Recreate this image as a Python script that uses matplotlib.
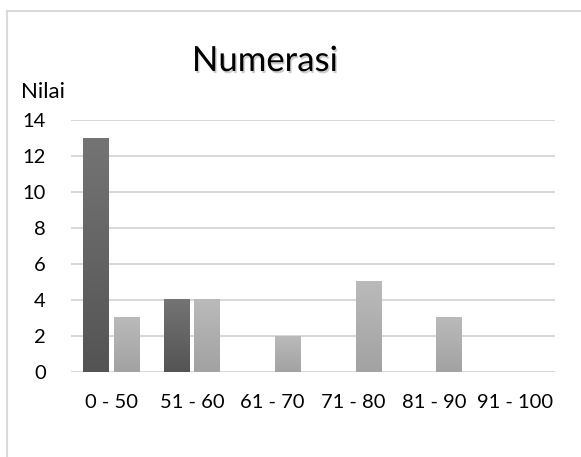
import matplotlib.pyplot as plt
import matplotlib.patheffects as pe
import numpy as np
from matplotlib.patches import Rectangle

plt.rcParams['font.family'] = ['Lato', 'DejaVu Sans']

categories = ['0 - 50', '51 - 60', '61 - 70', '71 - 80', '81 - 90', '91 - 100']
series_dark = [13, 4, 0, 0, 0, 0]
series_light = [3, 4, 2, 5, 3, 0]
y_ticks = [0, 2, 4, 6, 8, 10, 12, 14]

W, H = 581, 457
fig = plt.figure(figsize=(W / 100, H / 100), dpi=100)
fig.patch.set_facecolor('white')

# light grey frame around the chart area
fig.add_artist(Rectangle((6.5 / W, -0.01), 1.02, 1 - 10.5 / H + 0.01, transform=fig.transFigure,
                         fill=False, edgecolor='#d9d9d9', linewidth=1.5))

ax = fig.add_axes([71 / W, 1 - 372 / H, (555 - 71) / W, (372 - 120) / H])
x = np.arange(len(categories))
width = 0.32
offset = 0.19

def grad_bars(xs, vals, top, bottom):
    bars = ax.bar(xs, vals, width, color='none', zorder=3)
    cmap = np.linspace(0, 1, 64).reshape(-1, 1)
    c_top = np.array(plt.matplotlib.colors.to_rgb(top))
    c_bot = np.array(plt.matplotlib.colors.to_rgb(bottom))
    img = c_top[None, None, :] * (1 - cmap[..., None]) + c_bot[None, None, :] * cmap[..., None]
    for b in bars:
        h = b.get_height()
        if h <= 0:
            continue
        x0 = b.get_x()
        w = b.get_width()
        # soft shadow under each bar
        shadow = Rectangle((x0, 0), w, h, facecolor='#000000', alpha=0.0, zorder=2,
                           path_effects=[pe.SimplePatchShadow(offset=(0, -1), shadow_rgbFace='#808080', alpha=0.35)])
        ax.add_patch(shadow)
        ax.imshow(img, extent=(x0, x0 + w, 0, h), aspect='auto', zorder=3, interpolation='bilinear')
    return bars

grad_bars(x - offset, series_dark, '#747474', '#545454')
grad_bars(x + offset, series_light, '#bababa', '#a2a2a2')

ax.set_xlim(-0.5, len(categories) - 0.5)
ax.set_ylim(0, 14)
ax.set_yticks(y_ticks)
ax.set_xticks(x)
ax.set_xticklabels(categories)
ax.yaxis.grid(True, color='#d9d9d9', linewidth=1.5, zorder=0)
ax.set_axisbelow(True)
for s in ax.spines.values():
    s.set_visible(False)
ax.tick_params(length=0, labelsize=14.5, colors='black')
ax.tick_params(axis='y', pad=18)
ax.tick_params(axis='x', pad=16)

fig.text(265 / W, 1 - 61 / H, 'Numerasi', ha='center', va='center', fontsize=25,
         path_effects=[pe.withSimplePatchShadow(offset=(1, -1.5), shadow_rgbFace='#999999', alpha=0.5)])
fig.text(21 / W, 1 - 92 / H, 'Nilai', ha='left', va='center', fontsize=16)

fig.savefig('out.png', dpi=100)
